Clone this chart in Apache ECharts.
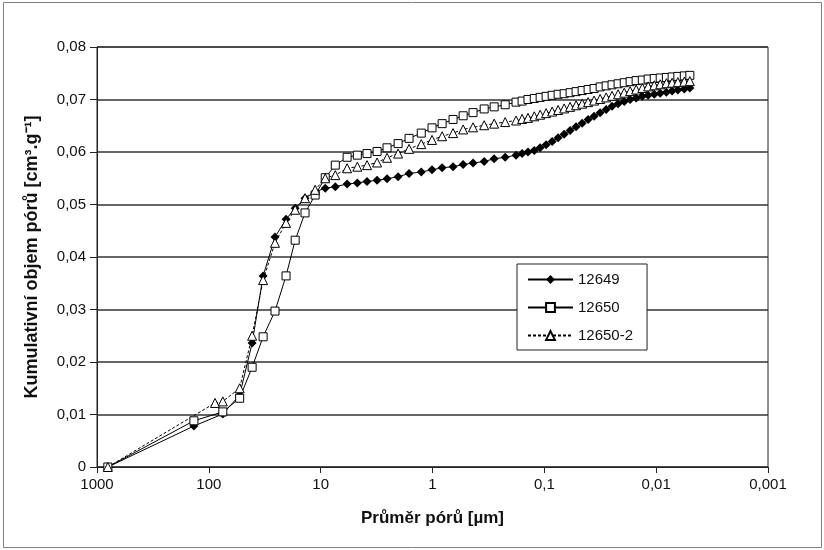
<!DOCTYPE html>
<html>
<head>
<meta charset="utf-8">
<script src="https://cdn.jsdelivr.net/npm/echarts@6/dist/echarts.min.js"></script>
<style>
  body { margin: 0; background: #fff; }
  #chart { width: 824px; height: 550px; }
</style>
</head>
<body>
<div id="chart"></div>
<script>
// pore diameter [µm], shared by the three measurements
const poreSize = [800, 136, 88, 75, 53, 41, 32.7, 25.6, 20.4, 16.9,
  13.8, 11.2, 9.1, 7.4, 5.8, 4.7, 3.85, 3.13, 2.55, 2.03,
  1.62, 1.26, 1.01, 0.82, 0.655, 0.532, 0.434, 0.345, 0.281, 0.224, 0.179,
  0.158, 0.140, 0.123, 0.109, 0.0964, 0.0851, 0.0753, 0.0665, 0.0588, 0.0520,
  0.0459, 0.0406, 0.0359, 0.0317, 0.0280, 0.0248, 0.0219, 0.0193, 0.0171, 0.0151,
  0.0133, 0.0118, 0.0104, 0.0092, 0.0081, 0.0072, 0.0064, 0.0056, 0.0050]

// cumulative pore volume [cm3/g]
const v12649 = [0, 0.0078, null, 0.0101, 0.0137, 0.0236, 0.0364, 0.0438, 0.0472, 0.0493,
  0.0512, 0.0524, 0.0531, 0.0534, 0.0539, 0.0541, 0.0544, 0.0546, 0.0549, 0.0553,
  0.0559, 0.0562, 0.0566, 0.057, 0.0572, 0.0576, 0.0579, 0.0582, 0.0587, 0.059, 0.0594,
  0.0597, 0.0600, 0.0603, 0.0608, 0.0614, 0.0620, 0.0627, 0.0634, 0.0641, 0.0648,
  0.0655, 0.0662, 0.0668, 0.0675, 0.0681, 0.0687, 0.0692, 0.0696, 0.0700, 0.0703,
  0.0706, 0.0708, 0.0710, 0.0712, 0.0714, 0.0716, 0.0718, 0.0720, 0.0722]

const v12650 = [0, 0.0088, null, 0.0105, 0.0131, 0.019, 0.0248, 0.0297, 0.0364, 0.0432,
  0.0484, 0.0518, 0.0551, 0.0575, 0.059, 0.0594, 0.0597, 0.0601, 0.0608, 0.0616,
  0.0626, 0.0636, 0.0646, 0.0654, 0.0662, 0.0669, 0.0675, 0.0682, 0.0686, 0.069, 0.0695,
  0.0697, 0.0700, 0.0702, 0.0704, 0.0706, 0.0708, 0.0710, 0.0711, 0.0713, 0.0715,
  0.0717, 0.0719, 0.0721, 0.0724, 0.0726, 0.0728, 0.0730, 0.0732, 0.0734, 0.0736,
  0.0737, 0.0739, 0.0740, 0.0741, 0.0742, 0.0743, 0.0744, 0.0745, 0.0746]

const v12650b = [0, null, 0.0122, 0.0125, 0.015, 0.025, 0.0356, 0.0427, 0.0465, 0.049,
  0.0512, 0.0528, 0.055, 0.0556, 0.0569, 0.0572, 0.0575, 0.058, 0.0589, 0.0597,
  0.0606, 0.0615, 0.0623, 0.063, 0.0636, 0.0643, 0.0647, 0.0651, 0.0654, 0.0657, 0.066,
  0.0663, 0.0665, 0.0668, 0.0671, 0.0674, 0.0677, 0.0680, 0.0683, 0.0686, 0.0689,
  0.0692, 0.0695, 0.0698, 0.0701, 0.0704, 0.0707, 0.0710, 0.0713, 0.0716, 0.0719,
  0.0722, 0.0725, 0.0727, 0.0729, 0.0731, 0.0732, 0.0733, 0.0734, 0.0735]

const seriesNames = ['12649', '12650', '12650-2']

function pairs(vals) {
  return poreSize.map((d, i) => [d, vals[i] == null ? '-' : vals[i]])
}

function fmtX(v) {
  if (v >= 1) return String(Math.round(v))
  let dec = Math.round(-Math.log10(v))
  return v.toFixed(dec).replace('.', ',')
}

const font = 'Arial, "Liberation Sans", sans-serif'
let myChart = echarts.init(document.getElementById('chart'))

let option = {
  backgroundColor: '#fff',
  animation: false,
  textStyle: { fontFamily: font },
  graphic: [{
    type: 'rect',
    shape: { x: 3.5, y: 2.5, width: 818, height: 545 },
    style: { fill: 'none', stroke: '#808080', lineWidth: 1 },
  }],
  grid: {
    left: 97,
    right: 56,
    top: 47,
    bottom: 83,
    show: true,
    borderColor: '#222',
    borderWidth: 1,
  },
  legend: {
    orient: 'vertical',
    left: 517,
    top: 264,
    padding: [8, 14, 7, 10],
    itemGap: 13,
    itemWidth: 45,
    itemHeight: 11,
    backgroundColor: '#fff',
    borderColor: '#222',
    borderWidth: 1,
    borderRadius: 0,
    textStyle: { fontSize: 15, color: '#111', fontFamily: font },
    data: seriesNames,
  },
  xAxis: {
    type: 'log',
    logBase: 10,
    inverse: true,
    min: 0.001,
    max: 1000,
    splitNumber: 6,
    name: 'Průměr pórů [µm]',
    nameLocation: 'middle',
    nameGap: 43,
    nameTextStyle: { fontSize: 17, fontWeight: 'bold', color: '#111', fontFamily: font },
    axisLine: { lineStyle: { color: '#222', width: 1 } },
    axisTick: { show: true, length: 6, lineStyle: { color: '#222' } },
    axisLabel: { fontSize: 15, color: '#111', margin: 10, formatter: fmtX },
    splitLine: { show: false },
    minorTick: { show: false },
  },
  yAxis: {
    type: 'value',
    min: 0,
    max: 0.08,
    interval: 0.01,
    name: 'Kumulativní objem pórů [cm³.g⁻¹]',
    nameLocation: 'middle',
    nameGap: 56,
    nameTextStyle: { fontSize: 18, fontWeight: 'bold', color: '#111', fontFamily: font },
    axisLine: { show: true, lineStyle: { color: '#222', width: 1 } },
    axisTick: { show: true, length: 7, lineStyle: { color: '#222' } },
    axisLabel: {
      fontSize: 15,
      color: '#111',
      margin: 11,
      formatter: v => (v === 0 ? '0' : v.toFixed(2).replace('.', ',')),
    },
    splitLine: { show: true, lineStyle: { color: '#333', width: 1.5 } },
  },
  series: [
    {
      name: seriesNames[0],
      type: 'line',
      data: pairs(v12649),
      connectNulls: true,
      symbol: 'diamond',
      symbolSize: 9,
      itemStyle: { color: '#000' },
      lineStyle: { color: '#000', width: 1 },
    },
    {
      name: seriesNames[1],
      type: 'line',
      data: pairs(v12650),
      connectNulls: true,
      symbol: 'rect',
      symbolSize: 8,
      itemStyle: { color: '#fff', borderColor: '#000', borderWidth: 1 },
      lineStyle: { color: '#000', width: 1 },
    },
    {
      name: seriesNames[2],
      type: 'line',
      data: pairs(v12650b),
      connectNulls: true,
      symbol: 'triangle',
      symbolSize: 9,
      itemStyle: { color: '#fff', borderColor: '#000', borderWidth: 1 },
      lineStyle: { color: '#000', width: 1, type: [3, 2] },
    },
  ],
}

option && myChart.setOption(option)
</script>
</body>
</html>
